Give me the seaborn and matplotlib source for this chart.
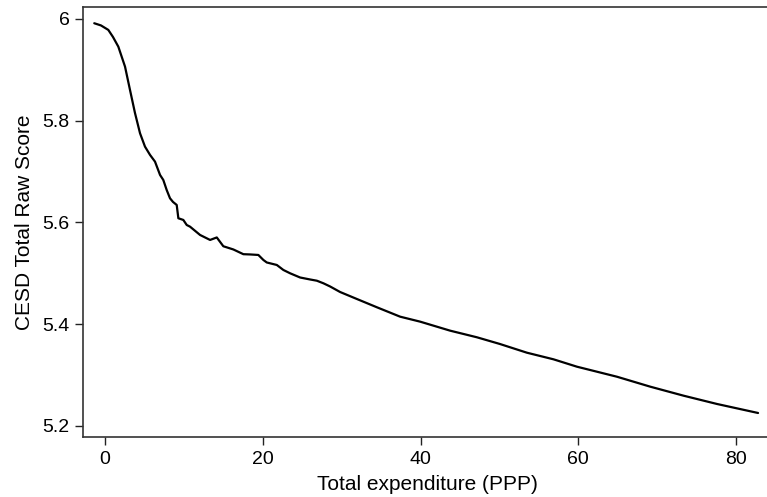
import matplotlib
matplotlib.use("Agg")
import matplotlib.pyplot as plt
import seaborn as sns
import pandas as pd

# Data (smoothed curve)
expenditure = [-1.36, -0.51, 0.42, 1.01, 1.69, 2.54, 3.17, 3.80, 4.44, 5.07,
               5.71, 6.34, 6.98, 7.39, 7.82, 8.24, 8.62, 9.09, 9.30, 9.93,
               10.36, 10.78, 12.05, 13.32, 14.17, 15.00, 16.27, 17.54, 18.39, 19.44,
               20.08, 20.51, 21.78, 22.61, 23.46, 24.73, 26.00, 26.85, 27.69, 28.54,
               29.80, 31.92, 34.46, 37.41, 39.95, 43.75, 47.14, 50.06, 53.48, 56.85,
               59.82, 64.89, 69.12, 73.34, 77.58, 82.78]
cesd = [5.9915, 5.9872, 5.9784, 5.9646, 5.9455, 5.9062, 5.8604, 5.8152, 5.7753, 5.7490,
        5.7327, 5.7195, 5.6933, 5.6835, 5.6638, 5.6475, 5.6403, 5.6344, 5.6082, 5.6049,
        5.5950, 5.5917, 5.5754, 5.5656, 5.5705, 5.5532, 5.5469, 5.5376, 5.5371, 5.5361,
        5.5262, 5.5213, 5.5164, 5.5066, 5.5001, 5.4918, 5.4879, 5.4855, 5.4804, 5.4741,
        5.4633, 5.4496, 5.4333, 5.4148, 5.4050, 5.3873, 5.3743, 5.3611, 5.3440, 5.3310,
        5.3165, 5.2968, 5.2772, 5.2595, 5.2432, 5.2255]
x_ticks = [0, 20, 40, 60, 80]
y_ticks = [5.2, 5.4, 5.6, 5.8, 6.0]
y_tick_labels = ["5.2", "5.4", "5.6", "5.8", "6"]

sns.set_theme(style="ticks")
plt.rcParams['font.family'] = ['Liberation Sans', 'DejaVu Sans']

df = pd.DataFrame({"x": expenditure, "y": cesd})

fig = plt.figure(figsize=(7.67, 4.97), dpi=100)
ax = fig.add_axes([0.1086, 0.1201, 0.8964, 0.8664])

sns.lineplot(data=df, x="x", y="y", ax=ax, color="black", linewidth=1.6, sort=True)

ax.set_xlim(-2.75, 84.4)
ax.set_ylim(5.1777, 6.024)
ax.set_xticks(x_ticks)
ax.set_xticklabels([str(t) for t in x_ticks])
ax.set_yticks(y_ticks)
ax.set_yticklabels(y_tick_labels)
ax.tick_params(axis="both", direction="out", length=6, width=1, colors="#222222",
               labelsize=14, labelcolor="black", pad=4)
ax.set_xlabel("Total expenditure (PPP)", fontsize=15, color="black", labelpad=5)
ax.set_ylabel("CESD Total Raw Score", fontsize=15, color="black", labelpad=6)
ax.spines["right"].set_visible(False)
for s in ["left", "bottom", "top"]:
    ax.spines[s].set_color("#333333")
    ax.spines[s].set_linewidth(1.2)

fig.savefig("out.png", dpi=100)
